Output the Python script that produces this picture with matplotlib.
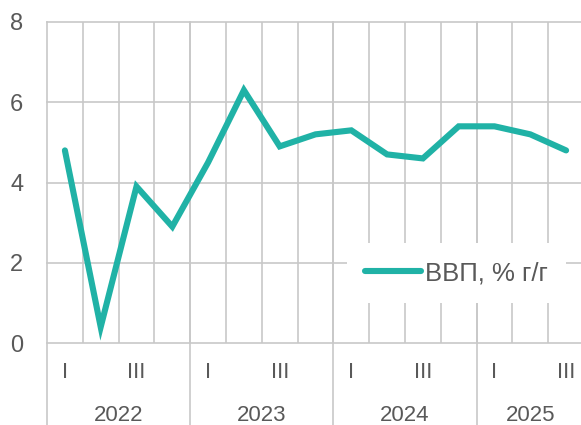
import matplotlib
matplotlib.use("Agg")
import matplotlib.pyplot as plt
import numpy as np

# data
quarters = ['I', 'II', 'III', 'IV'] * 3 + ['I', 'II', 'III']
years = ['2022', '2023', '2024', '2025']
year_sizes = [4, 4, 4, 3]
gdp = [4.8, 0.4, 3.9, 2.9, 4.5, 6.3, 4.9, 5.2, 5.3, 4.7, 4.6, 5.4, 5.4, 5.2, 4.8]
series_name = 'ВВП, % г/г'

plt.rcParams['font.family'] = ['Liberation Sans', 'DejaVu Sans']
txt = '#595959'
grid_c = '#c8c8c8'

fig = plt.figure(figsize=(5.81, 4.25), dpi=100)
ax = fig.add_axes([47 / 581, 1 - 343 / 425, 537 / 581, 321 / 425])

x = np.arange(len(gdp))
ax.plot(x, gdp, color='#20b2a6', lw=4.4, solid_joinstyle='miter',
        solid_capstyle='round', label=series_name, zorder=3)

ax.set_xlim(-0.5, len(gdp) - 0.5)
ax.set_ylim(0, 8)
ax.set_yticks([0, 2, 4, 6, 8])
ax.yaxis.grid(True, color=grid_c, lw=1.2, clip_on=False)

# quarter boundaries
ax.set_xticks(np.arange(0.5, len(gdp) - 0.5), minor=True)
ax.xaxis.grid(True, which='minor', color=grid_c, lw=1.2)
ax.set_xticks(x)
ax.set_xticklabels([q if q in ('I', 'III') else '' for q in quarters])
ax.tick_params(axis='x', which='both', length=0, pad=14, labelsize=16, labelcolor=txt)
ax.tick_params(axis='y', length=0, pad=17, labelsize=17, labelcolor=txt)

for s in ax.spines.values():
    s.set_visible(False)

# year separators and labels
start = 0
for yr, n in zip(years, year_sizes):
    ax.axvline(start - 0.5, ymin=-0.3, ymax=1, color=grid_c, lw=1.2, clip_on=False)
    ax.text(start - 0.5 + n / 2, -0.226, yr, transform=ax.get_xaxis_transform(),
            ha='center', va='center', fontsize=16, color=txt)
    start += n

leg = ax.legend(loc='center', bbox_to_anchor=(0.7626, 0.218), frameon=True,
                facecolor='white', edgecolor='none', framealpha=1, fancybox=False,
                fontsize=18.5, handlelength=2.18, handletextpad=0.16, borderpad=0.7)
for t in leg.get_texts():
    t.set_color(txt)
for h in leg.get_lines():
    h.set_solid_capstyle('round')

fig.savefig('out.png', dpi=100)
